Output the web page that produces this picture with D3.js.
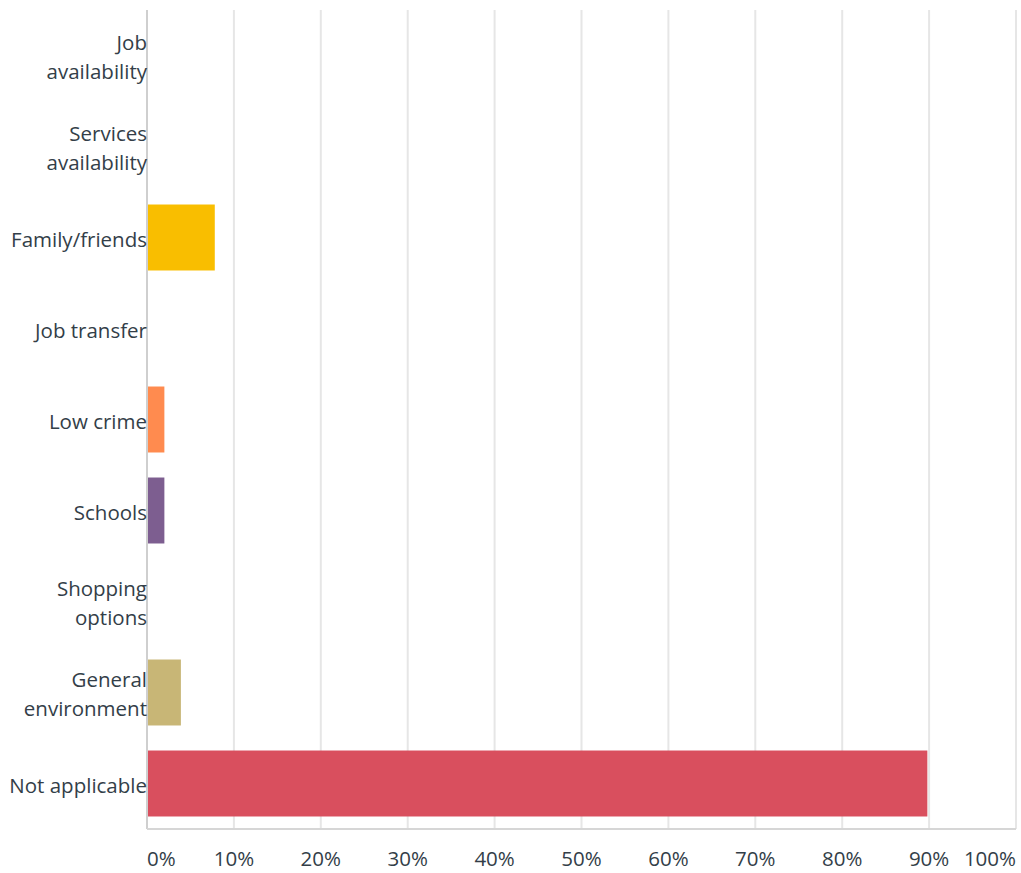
<!doctype html>
<html>
  <head>
    <meta charset="utf-8">
    <title>Bar</title>
    <script src="https://d3js.org/d3.v7.min.js"></script>
    <style>
      body { margin: 0; background: #fff; }
      text { font-family: "Open Sans", sans-serif; fill: #333e48; }
    </style>
  </head>
  <body>
    <script>
      const categories = ['Job availability', 'Services availability', 'Family/friends', 'Job transfer',
        'Low crime', 'Schools', 'Shopping options', 'General environment', 'Not applicable'];
      const values = [0, 0, 7.8, 0, 2.0, 2.0, 0, 3.9, 89.8];
      const colors = ['#00bf6f', '#507cb6', '#f9be00', '#6bc8cd', '#ff8b4f', '#7d5e90', '#d25f90', '#c8b676', '#d94f5e'];
      // labels that wrap onto two lines in the original
      const wrapped = ['Job availability', 'Services availability', 'Shopping options', 'General environment'];
      const ticks = [0, 10, 20, 30, 40, 50, 60, 70, 80, 90, 100];

      const width = 1021, height = 873;
      const margin = {top: 10, right: 5, bottom: 44, left: 147};

      const svg = d3.select('body').append('svg')
          .attr('width', width)
          .attr('height', height);

      const x = d3.scaleLinear()
          .domain([0, 100])
          .range([margin.left, width - margin.right]);

      const y = d3.scaleBand()
          .domain(categories)
          .range([margin.top, height - margin.bottom])
          .paddingInner(0.275)
          .paddingOuter(0.1375);

      // gridlines
      svg.append('g')
        .selectAll('line')
        .data(ticks.slice(1))
        .join('line')
          .attr('x1', d => x(d)).attr('x2', d => x(d))
          .attr('y1', margin.top).attr('y2', height - margin.bottom)
          .attr('stroke', '#e6e6e6')
          .attr('stroke-width', 2);

      // bars
      svg.append('g')
        .selectAll('rect')
        .data(categories)
        .join('rect')
          .attr('x', x(0))
          .attr('y', d => y(d))
          .attr('height', y.bandwidth())
          .attr('width', (d, i) => x(values[i]) - x(0))
          .attr('fill', (d, i) => colors[i]);

      // axis lines
      svg.append('line')
          .attr('x1', x(0)).attr('x2', x(0))
          .attr('y1', margin.top).attr('y2', height - margin.bottom)
          .attr('stroke', '#cfcfcf').attr('stroke-width', 2);
      svg.append('line')
          .attr('x1', x(0)).attr('x2', x(100))
          .attr('y1', height - margin.bottom).attr('y2', height - margin.bottom)
          .attr('stroke', '#d6d6d6').attr('stroke-width', 2);

      // category labels
      const labels = svg.append('g')
          .attr('font-size', '20.5px')
          .attr('text-anchor', 'end')
        .selectAll('text')
        .data(categories)
        .join('text')
          .attr('y', d => y(d) + y.bandwidth() / 2);

      labels.selectAll('tspan')
        .data(d => wrapped.includes(d) ? d.split(' ') : [d])
        .join('tspan')
          .attr('x', margin.left)
          .attr('dy', (d, i, nodes) => i === 0 ? `${0.44 - (nodes.length - 1) * 0.7}em` : '1.4em')
          .text(d => d);

      // tick labels
      svg.append('g')
          .attr('font-size', '20.5px')
        .selectAll('text')
        .data(ticks)
        .join('text')
          .attr('x', d => x(d))
          .attr('y', 866)
          .attr('text-anchor', d => d === 0 ? 'start' : d === 100 ? 'end' : 'middle')
          .text(d => d + '%');
    </script>
  </body>
</html>
